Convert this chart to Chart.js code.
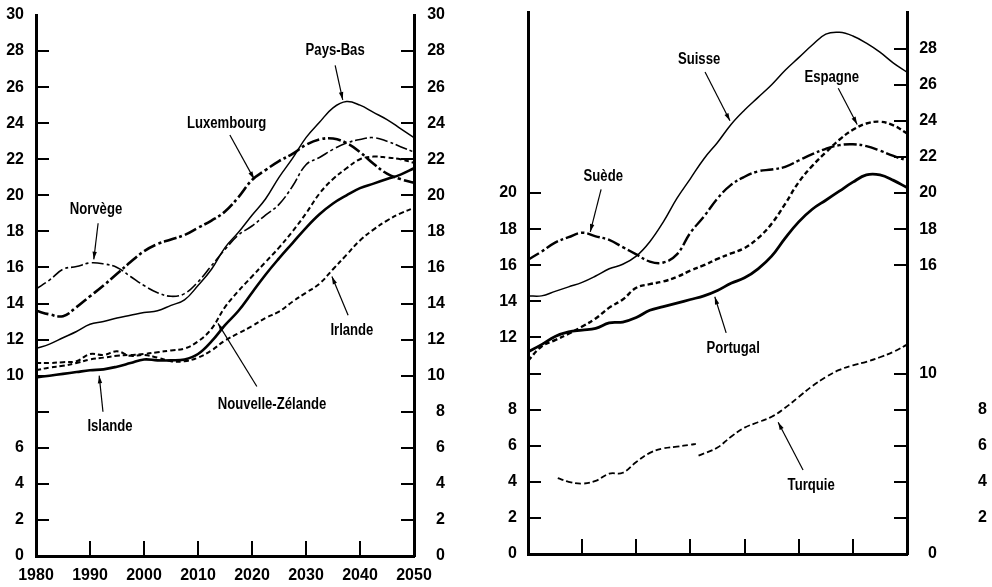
<!DOCTYPE html>
<html lang="fr">
<head>
<meta charset="UTF-8">
<title>Population âgée de 65 ans et plus</title>
<script src="https://cdn.jsdelivr.net/npm/chart.js"></script>
<style>
    body { margin: 0; background: #fff; }
    .panel { position: absolute; top: 0; height: 587px; }
    #leftPanel { left: 0; width: 460px; }
    #rightPanel { left: 470px; width: 522px; }
</style>
</head>
<body>

<div class="panel" id="leftPanel"><canvas id="leftChart"></canvas></div>
<div class="panel" id="rightPanel"><canvas id="rightChart"></canvas></div>

<script>
// years shared by every series (2.5-year steps)
const years = [1980, 1982.5, 1985, 1987.5, 1990, 1992.5, 1995, 1997.5, 2000, 2002.5,
               2005, 2007.5, 2010, 2012.5, 2015, 2017.5, 2020, 2022.5, 2025, 2027.5,
               2030, 2032.5, 2035, 2037.5, 2040, 2042.5, 2045, 2047.5, 2050];
const xTickYears = [1980, 1990, 2000, 2010, 2020, 2030, 2040, 2050];

// left panel
const paysBas    = [11.5, 11.75, 12.1, 12.45, 12.85, 13.0, 13.2, 13.35, 13.5, 13.6,
                    13.9, 14.2, 15.0, 15.9, 17.1, 17.95, 18.9, 19.8, 21.0, 22.05,
                    23.2, 24.05, 24.85, 25.2, 25.0, 24.6, 24.2, 23.7, 23.2];
const norvege    = [14.8, 15.3, 15.9, 16.05, 16.25, 16.2, 16.0, 15.5, 15.0, 14.6,
                    14.4, 14.55, 15.2, 16.1, 17.0, 17.8, 18.3, 18.9, 19.5, 20.5,
                    21.7, 22.1, 22.55, 22.9, 23.1, 23.2, 23.0, 22.7, 22.4];
const luxembourg = [13.6, 13.4, 13.3, 13.8, 14.4, 15.0, 15.65, 16.3, 16.9, 17.3,
                    17.55, 17.8, 18.2, 18.6, 19.1, 19.9, 20.85, 21.4, 21.9, 22.3,
                    22.8, 23.1, 23.15, 22.9, 22.4, 21.75, 21.2, 20.9, 20.7];
const islande    = [9.9, 10.0, 10.1, 10.2, 10.3, 10.35, 10.5, 10.7, 10.9, 10.85,
                    10.85, 10.9, 11.2, 11.9, 12.8, 13.6, 14.6, 15.6, 16.5, 17.35,
                    18.2, 18.95, 19.55, 20.0, 20.4, 20.65, 20.9, 21.15, 21.5];
const nouvZelande = [10.3, 10.45, 10.55, 10.7, 10.9, 11.0, 11.1, 11.15, 11.2, 11.3,
                    11.4, 11.5, 11.9, 12.6, 13.8, 14.7, 15.5, 16.3, 17.1, 18.0,
                    19.0, 20.1, 20.9, 21.5, 22.0, 22.15, 22.1, 22.0, 21.8];
const irlande    = [10.7, 10.7, 10.75, 10.8, 11.2, 11.15, 11.35, 11.1, 11.15, 11.0,
                    10.8, 10.8, 11.0, 11.4, 11.95, 12.35, 12.75, 13.2, 13.55, 14.1,
                    14.6, 15.1, 15.9, 16.7, 17.5, 18.1, 18.6, 19.0, 19.3];

// right panel
const suisse     = [14.3, 14.3, 14.55, 14.8, 15.05, 15.4, 15.8, 16.05, 16.5, 17.3,
                    18.4, 19.7, 20.8, 21.9, 22.8, 23.8, 24.6, 25.3, 26.0, 26.8,
                    27.5, 28.2, 28.8, 28.9, 28.7, 28.3, 27.8, 27.2, 26.7];
const suede      = [16.3, 16.75, 17.25, 17.55, 17.8, 17.6, 17.4, 17.0, 16.6, 16.2,
                    16.15, 16.6, 17.8, 18.7, 19.7, 20.45, 20.9, 21.2, 21.3, 21.45,
                    21.8, 22.15, 22.45, 22.65, 22.7, 22.6, 22.35, 22.05, 21.8];
const espagne    = [10.7, 11.5, 11.85, 12.2, 12.6, 13.05, 13.65, 14.1, 14.75, 14.95,
                    15.1, 15.35, 15.7, 16.0, 16.35, 16.65, 16.95, 17.5, 18.3, 19.4,
                    20.6, 21.5, 22.25, 22.95, 23.5, 23.85, 23.95, 23.75, 23.3];
const portugal   = [11.2, 11.6, 12.05, 12.3, 12.4, 12.5, 12.8, 12.85, 13.1, 13.5,
                    13.7, 13.9, 14.1, 14.3, 14.6, 15.0, 15.3, 15.8, 16.5, 17.5,
                    18.4, 19.1, 19.6, 20.1, 20.6, 21.0, 21.0, 20.7, 20.3];
// Turquie has its own years (starts later, small break in 2011)
const turquieYears = [1985.5, 1987.5, 1990, 1992.5, 1995, 1997.5, 2000, 2002.5, 2005, 2007.5,
                      2010, 2011, 2011.3, 2011.5, 2015, 2017.5, 2020, 2022.5, 2025, 2027.5,
                      2030, 2032.5, 2035, 2037.5, 2040, 2042.5, 2045, 2047.5, 2050];
const turquie    = [4.2, 4.0, 3.9, 4.05, 4.45, 4.5, 5.1, 5.6, 5.85, 5.95,
                    6.05, 6.1, null, 5.45, 5.9, 6.5, 7.0, 7.3, 7.6, 8.1,
                    8.7, 9.3, 9.8, 10.2, 10.45, 10.65, 10.9, 11.2, 11.6];

// labels with arrows: text position, arrow start, arrow tip (data units)
const leftNotes = [
    { text: 'Pays-Bas', x: 2035.4, y: 28.0, fx: 2035.4, fy: 27.2, tx: 2036.8, ty: 25.3 },
    { text: 'Luxembourg', x: 2015.3, y: 24.0, fx: 2015.9, fy: 23.35, tx: 2020.4, ty: 20.9 },
    { text: 'Norvège', x: 1991.1, y: 19.2, fx: 1991.5, fy: 18.45, tx: 1990.7, ty: 16.45 },
    { text: 'Irlande', x: 2038.5, y: 12.5, fx: 2037.8, fy: 13.35, tx: 2034.8, ty: 15.5 },
    { text: 'Nouvelle-Zélande', x: 2023.7, y: 8.4, fx: 2020.9, fy: 9.4, tx: 2013.7, ty: 12.9 },
    { text: 'Islande', x: 1993.7, y: 7.15, fx: 1992.4, fy: 8.0, tx: 1991.7, ty: 10.0 }
];
const rightNotes = [
    { text: 'Suisse', x: 2011.6, y: 27.4, fx: 2012.7, fy: 26.7, tx: 2017.3, ty: 24.0 },
    { text: 'Espagne', x: 2036.1, y: 26.4, fx: 2037.3, fy: 25.8, tx: 2040.8, ty: 23.8 },
    { text: 'Suède', x: 1993.9, y: 20.9, fx: 1993.5, fy: 20.2, tx: 1991.5, ty: 17.85 },
    { text: 'Portugal', x: 2017.9, y: 11.4, fx: 2016.6, fy: 12.25, tx: 2014.5, ty: 14.25 },
    { text: 'Turquie', x: 2032.3, y: 3.8, fx: 2030.8, fy: 4.65, tx: 2026.2, ty: 7.3 }
];

const FONT = "'Liberation Sans', Arial, sans-serif";
Chart.defaults.font.family = FONT;
Chart.defaults.font.size = 16;
Chart.defaults.font.weight = 'bold';
Chart.defaults.color = '#000';

function line(label, xs, values, width, dash) {
    return {
        label: label,
        data: values.map((v, i) => ({ x: xs[i], y: v })),
        borderColor: '#000',
        borderWidth: width,
        borderDash: dash,
        pointRadius: 0,
        tension: 0.4,
        fill: false,
        spanGaps: false
    };
}

// text + arrow notes (text squeezed to look like a narrow face)
const notesPlugin = {
    id: 'notes',
    afterDatasetsDraw(chart, args, opts) {
        const ctx = chart.ctx, sx = chart.scales.x, sy = chart.scales.y;
        ctx.save();
        ctx.font = 'bold 16px ' + FONT;
        ctx.fillStyle = '#000';
        ctx.strokeStyle = '#000';
        ctx.lineWidth = 1.2;
        ctx.textAlign = 'center';
        ctx.textBaseline = 'middle';
        opts.items.forEach(n => {
            ctx.save();
            ctx.translate(sx.getPixelForValue(n.x), sy.getPixelForValue(n.y));
            ctx.scale(0.82, 1);
            ctx.fillText(n.text, 0, 0);
            ctx.restore();
            const x1 = sx.getPixelForValue(n.fx), y1 = sy.getPixelForValue(n.fy);
            const x2 = sx.getPixelForValue(n.tx), y2 = sy.getPixelForValue(n.ty);
            ctx.beginPath();
            ctx.moveTo(x1, y1);
            ctx.lineTo(x2, y2);
            ctx.stroke();
            const a = Math.atan2(y2 - y1, x2 - x1);
            ctx.beginPath();
            ctx.moveTo(x2, y2);
            ctx.lineTo(x2 - 8 * Math.cos(a - 0.28), y2 - 8 * Math.sin(a - 0.28));
            ctx.lineTo(x2 - 8 * Math.cos(a + 0.28), y2 - 8 * Math.sin(a + 0.28));
            ctx.closePath();
            ctx.fill();
        });
        ctx.restore();
    }
};

// fixed axis sizes, and no extra room for the end labels
function noPad(scale) {
    scale.paddingTop = scale.paddingBottom = scale.paddingLeft = scale.paddingRight = 0;
}
function fixWidth(w) { return scale => { scale.width = w; noPad(scale); }; }
function fixHeight(h) { return scale => { scale.height = h; noPad(scale); }; }
const border = { display: true, color: '#000', width: 3 };

function xAxis(height, showLabels) {
    return {
        type: 'linear', min: 1980, max: 2050,
        afterFit: fixHeight(height),
        afterBuildTicks: s => { s.ticks = xTickYears.map(v => ({ value: v })); },
        border: border,
        grid: { drawOnChartArea: false, drawTicks: true, tickLength: -15, lineWidth: 2,
                color: ctx => (ctx.tick && ctx.tick.value > 1980 && ctx.tick.value < 2050) ? '#000' : 'rgba(0,0,0,0)' },
        ticks: { padding: 25, maxRotation: 0, autoSkip: false,
                 callback: v => showLabels ? String(v) : '' }
    };
}

function yAxis(position, width, pad, align, showLabel, showTick, extra) {
    return Object.assign({
        type: 'linear', position: position, min: 0, max: 30,
        afterFit: fixWidth(width),
        border: border,
        grid: { drawOnChartArea: false, drawTicks: true, tickLength: -13, lineWidth: 2,
                color: ctx => (ctx.tick && showTick(ctx.tick.value)) ? '#000' : 'rgba(0,0,0,0)' },
        ticks: { stepSize: 2, padding: pad, autoSkip: false, crossAlign: align,
                 callback: v => showLabel(v) ? String(v) : '' }
    }, extra || {});
}

// left panel
new Chart(document.getElementById('leftChart'), {
    type: 'line',
    data: {
        datasets: [
            line('Pays-Bas', years, paysBas, 1.5, []),
            line('Norvège', years, norvege, 1.6, [12, 3, 3, 3]),
            line('Luxembourg', years, luxembourg, 2.6, [13, 3, 3, 3]),
            line('Islande', years, islande, 2.6, []),
            line('Nouvelle-Zélande', years, nouvZelande, 2, [5, 3]),
            line('Irlande', years, irlande, 2, [5, 3])
        ]
    },
    options: {
        responsive: true,
        maintainAspectRatio: false,
        animation: false,
        layout: { padding: { top: 15, right: 15, left: 0, bottom: 0 } },
        plugins: { legend: { display: false }, tooltip: { enabled: false },
                   notes: { items: leftNotes } },
        scales: {
            x: xAxis(31, true),
            y: yAxis('left', 36, 25, 'near', v => v !== 8, v => v > 0 && v < 30),
            yR: yAxis('right', 31, 0, 'far', v => true, v => v > 0 && v < 30)
        }
    },
    plugins: [notesPlugin]
});

// right panel
const rightRightLabels = [0, 10, 16, 18, 20, 22, 24, 26, 28];
const rightRightTicks = [2, 4, 6, 8, 10, 16, 18, 20, 22, 24, 26, 28];
const farLabels = [2, 4, 6, 8];

new Chart(document.getElementById('rightChart'), {
    type: 'line',
    data: {
        datasets: [
            line('Suisse', years, suisse, 1.5, []),
            line('Suède', years, suede, 2.4, [13, 3, 3, 3]),
            line('Espagne', years, espagne, 2.4, [5, 3]),
            line('Portugal', years, portugal, 2.8, []),
            line('Turquie', turquieYears, turquie, 1.8, [6, 3])
        ]
    },
    options: {
        responsive: true,
        maintainAspectRatio: false,
        animation: false,
        layout: { padding: { top: 12.5, right: 0, left: 0, bottom: 0 } },
        plugins: { legend: { display: false }, tooltip: { enabled: false },
                   notes: { items: rightNotes } },
        scales: {
            x: xAxis(33, false),
            y: yAxis('left', 58, 24, 'near', v => v <= 20 && v !== 10, v => v > 0 && v <= 20),
            y2: yAxis('right', 30, 0, 'far', v => rightRightLabels.includes(v), v => rightRightTicks.includes(v), { weight: 0 }),
            y3: {
                type: 'linear', position: 'right', min: 0, max: 30, weight: 1,
                afterFit: fixWidth(55),
                border: { display: false },
                grid: { display: false, drawTicks: false },
                ticks: { stepSize: 2, padding: 41, autoSkip: false,
                         callback: v => farLabels.includes(v) ? String(v) : '' }
            }
        }
    },
    plugins: [notesPlugin]
});
</script>
</body>
</html>
